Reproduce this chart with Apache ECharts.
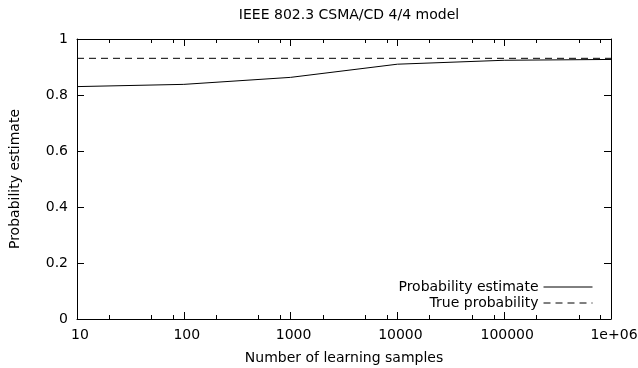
<!DOCTYPE html>
<html>
<head>
<meta charset="utf-8">
<script src="https://cdn.jsdelivr.net/npm/echarts@6/dist/echarts.min.js"></script>
<style>
  html, body { margin: 0; padding: 0; background: #fff; }
  #chart { width: 638px; height: 368px; }
</style>
</head>
<body>
<div id="chart"></div>
<script>
// values
const samples = [10, 100, 1000, 10000, 100000, 1000000];
const estimate = [0.830, 0.838, 0.863, 0.910, 0.924, 0.927];
const trueProb = [0.931, 0.931, 0.931, 0.931, 0.931, 0.931];
const xTickLabels = ["10", "100", "1000", "10000", "100000", "1e+06"];
const minorTicks = [20, 50, 80, 200, 500, 800, 2000, 5000, 8000,
  20000, 50000, 80000, 200000, 500000, 800000];

const font = "DejaVu Sans";
const ink = "#000";

const line_style = { color: ink, width: 1 };

const major_x = {
  type: "log",
  logBase: 10,
  min: 10,
  max: 1000000,
  axisLine: { onZero: false, lineStyle: line_style },
  axisTick: { inside: true, length: 7, lineStyle: line_style },
  splitLine: { show: false }
};

// minor ticks sit on a plain value axis in decade units (log10 of the sample count)
const minor_x = {
  type: "value",
  min: 1,
  max: 6,
  axisLine: { show: false, onZero: false },
  axisLabel: { show: false },
  splitLine: { show: false },
  axisTick: {
    inside: true,
    length: 4,
    lineStyle: line_style,
    customValues: minorTicks.map(v => Math.log10(v))
  }
};

const y_base = {
  type: "value",
  min: 0,
  max: 1,
  interval: 0.2,
  axisLine: { show: true, onZero: false, lineStyle: line_style },
  axisTick: { show: true, inside: true, length: 7, lineStyle: line_style },
  splitLine: { show: false }
};

const chart = echarts.init(document.getElementById("chart"));
chart.setOption({
  animation: false,
  backgroundColor: "#fff",
  textStyle: { fontFamily: font, color: ink },
  title: {
    text: "IEEE 802.3 CSMA/CD 4/4 model",
    left: 344,
    textAlign: "center",
    top: 3,
    textStyle: { fontFamily: font, fontSize: 14, fontWeight: "normal", color: ink }
  },
  grid: { left: 77, right: 27, top: 39, bottom: 49, outerBoundsMode: "none" },
  legend: {
    orient: "vertical",
    right: 45,
    top: 280,
    padding: 0,
    align: "right",
    itemWidth: 49,
    itemHeight: 14,
    itemGap: 2,
    itemStyle: { opacity: 0, borderWidth: 0 },
    lineStyle: { width: 1 },
    textStyle: { fontFamily: font, fontSize: 14, color: ink },
    data: ["Probability estimate", "True probability"]
  },
  xAxis: [
    Object.assign({}, major_x, {
      position: "bottom",
      name: "Number of learning samples",
      nameLocation: "middle",
      nameGap: 32,
      nameTextStyle: { fontFamily: font, fontSize: 14, color: ink },
      axisLabel: {
        margin: 9,
        fontFamily: font,
        fontSize: 14,
        color: ink,
        padding: [0, 0, 0, 6],
        formatter: v => xTickLabels[Math.round(Math.log10(v)) - 1]
      }
    }),
    Object.assign({}, major_x, { position: "top", axisLabel: { show: false } }),
    Object.assign({}, minor_x, { position: "bottom" }),
    Object.assign({}, minor_x, { position: "top" })
  ],
  yAxis: [
    Object.assign({}, y_base, {
      position: "left",
      name: "Probability estimate",
      nameLocation: "middle",
      nameGap: 55,
      nameTextStyle: { fontFamily: font, fontSize: 14, color: ink },
      axisLabel: { margin: 9, fontFamily: font, fontSize: 14, color: ink }
    }),
    Object.assign({}, y_base, { position: "right", axisLabel: { show: false } })
  ],
  series: [
    {
      name: "Probability estimate",
      type: "line",
      xAxisIndex: 0,
      yAxisIndex: 0,
      symbol: "none",
      lineStyle: { color: ink, width: 1 },
      itemStyle: { color: ink },
      data: samples.map((s, i) => [s, estimate[i]])
    },
    {
      name: "True probability",
      type: "line",
      xAxisIndex: 0,
      yAxisIndex: 0,
      symbol: "none",
      lineStyle: { color: ink, width: 1, type: [7, 5] },
      itemStyle: { color: ink },
      data: samples.map((s, i) => [s, trueProb[i]])
    }
  ]
});
</script>
</body>
</html>
